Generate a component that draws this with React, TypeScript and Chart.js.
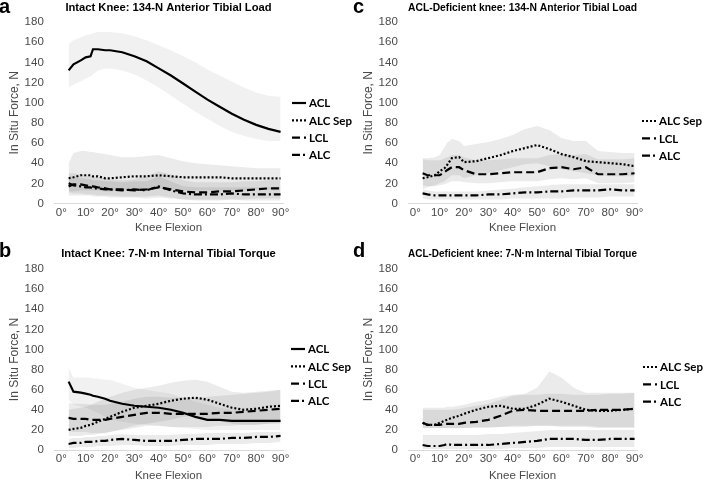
import React, { useEffect, useRef } from "react";
import { Chart, registerables } from "chart.js";

Chart.register(...registerables);

// ---------------- data ----------------
const angles = [3, 5, 8, 10, 12, 13, 15, 18, 20, 25, 30, 35, 40, 45, 50, 55, 60, 65, 70, 75, 80, 85, 90];
const xTicks = [0, 10, 20, 30, 40, 50, 60, 70, 80, 90];
const yTicks = [0, 20, 40, 60, 80, 100, 120, 140, 160, 180];

const titleA = "Intact Knee: 134-N Anterior Tibial Load";
const titleB = "Intact Knee: 7-N\u00b7m Internal Tibial Torque";
const titleC = "ACL-Deficient knee: 134-N Anterior Tibial Load";
const titleD = "ACL-Deficient knee: 7-N\u00b7m Internal Tibial Torque";

// Panel a
const aACL = [132, 138, 142, 145, 146, 153, 153, 152, 152, 150, 146, 141, 134, 127, 119, 111, 103, 96, 89, 83, 78, 74, 71];
const aACLHi = [158, 162, 165, 167, 168, 169, 170, 170, 170, 169, 166, 162, 157, 152, 146, 140, 133, 127, 121, 115, 110, 107, 106];
const aACLLo = [115, 118, 121, 124, 126, 128, 132, 134, 134, 132, 128, 122, 115, 107, 99, 91, 84, 77, 71, 67, 64, 62, 62];
const aSep = [25, 26, 28, 28, 28, 27, 27, 25, 25, 26, 27, 27, 28, 27, 26, 26, 26, 26, 25, 25, 25, 25, 25];
const aSepHi = [40, 50, 52, 52, 51, 51, 50, 49, 48, 46, 46, 47, 48, 45, 42, 40, 39, 38, 37, 36, 35, 35, 35];
const aSepLo = [12, 12, 13, 13, 13, 13, 13, 12, 12, 13, 14, 14, 15, 14, 13, 13, 13, 13, 13, 13, 14, 14, 14];
const aLCL = [17, 19, 19, 18, 17, 17, 16, 15, 14, 14, 13, 14, 16, 14, 12, 11, 11, 12, 12, 13, 14, 15, 15];
const aLCLHi = [30, 30, 29, 28, 27, 27, 26, 25, 24, 23, 24, 27, 32, 29, 23, 21, 21, 21, 21, 22, 22, 23, 23];
const aLCLLo = [8, 8, 8, 8, 8, 7, 7, 7, 6, 6, 6, 5, 6, 5, 4, 4, 4, 4, 4, 4, 5, 5, 5];
const aALC = [20, 18, 17, 16, 16, 15, 15, 14, 14, 13, 14, 13, 17, 13, 10, 9, 9, 9, 10, 9, 9, 9, 9];
const aALCHi = [28, 26, 25, 24, 24, 23, 23, 22, 22, 21, 22, 22, 27, 22, 17, 16, 16, 16, 16, 16, 16, 16, 16];
const aALCLo = [11, 10, 10, 9, 9, 9, 8, 8, 8, 7, 7, 7, 8, 6, 4, 3, 3, 3, 4, 3, 3, 3, 3];

// Panel b
const bACL = [68, 58, 57, 56, 55, 54, 53, 51, 49, 46, 44, 43, 42, 40, 37, 33, 30, 30, 29, 29, 29, 29, 29];
const bACLHi = [82, 72, 72, 72, 72, 71, 71, 70, 70, 66, 62, 60, 58, 56, 52, 48, 45, 42, 40, 40, 40, 40, 40];
const bACLLo = [50, 45, 43, 42, 40, 39, 37, 33, 30, 28, 26, 25, 24, 23, 22, 21, 20, 20, 20, 20, 20, 20, 20];
const bSep = [20, 21, 22, 24, 25, 26, 28, 31, 33, 38, 42, 44, 46, 49, 51, 52, 50, 46, 42, 40, 41, 43, 44];
const bSepHi = [40, 41, 42, 43, 45, 46, 48, 51, 53, 57, 60, 62, 64, 67, 69, 70, 68, 63, 58, 57, 58, 59, 60];
const bSepLo = [14, 14, 14, 15, 15, 15, 16, 17, 18, 21, 24, 26, 28, 30, 33, 34, 32, 29, 26, 25, 25, 26, 27];
const bLCL = [32, 31, 31, 31, 30, 30, 30, 30, 31, 33, 35, 37, 37, 36, 36, 36, 36, 37, 37, 38, 39, 40, 41];
const bLCLHi = [47, 46, 46, 46, 45, 45, 45, 45, 46, 48, 51, 53, 53, 52, 52, 52, 53, 54, 55, 56, 57, 58, 60];
const bLCLLo = [19, 18, 18, 18, 17, 17, 17, 17, 18, 20, 22, 24, 24, 23, 23, 23, 23, 24, 24, 25, 25, 26, 26];
const bALC = [6, 7, 7, 8, 8, 8, 9, 9, 10, 11, 10, 9, 9, 9, 10, 11, 11, 11, 12, 12, 13, 13, 14];
const bALCHi = [11, 12, 12, 13, 13, 13, 14, 14, 15, 16, 15, 15, 15, 15, 16, 16, 17, 17, 17, 17, 18, 18, 18];
const bALCLo = [2, 2, 3, 3, 3, 3, 4, 4, 4, 5, 5, 4, 4, 4, 5, 5, 5, 6, 6, 6, 7, 7, 8];

// Panel c
const cSep = [25, 26, 28, 32, 35, 38, 45, 46, 41, 42, 45, 48, 52, 55, 58, 54, 49, 46, 42, 41, 40, 39, 37];
const cSepHi = [45, 45, 46, 48, 56, 60, 64, 62, 57, 59, 61, 64, 68, 74, 77, 73, 65, 62, 62, 52, 51, 50, 50];
const cSepLo = [14, 16, 18, 20, 22, 24, 28, 28, 25, 28, 30, 33, 36, 39, 40, 37, 34, 32, 30, 28, 27, 27, 27];
const cLCL = [30, 28, 28, 28, 31, 33, 36, 36, 33, 29, 29, 30, 31, 31, 31, 35, 36, 34, 36, 29, 29, 29, 30];
const cLCLHi = [44, 43, 43, 43, 45, 46, 48, 48, 46, 43, 43, 44, 45, 45, 45, 48, 49, 48, 49, 44, 44, 44, 45];
const cLCLLo = [18, 17, 17, 18, 19, 20, 22, 22, 21, 20, 20, 21, 22, 22, 22, 24, 25, 24, 25, 20, 20, 20, 21];
const cALC = [10, 9, 8, 8, 8, 8, 8, 8, 8, 8, 9, 9, 10, 11, 11, 12, 12, 13, 13, 13, 14, 13, 13];
const cALCHi = [14, 13, 12, 12, 12, 12, 12, 12, 12, 12, 13, 14, 15, 16, 17, 18, 19, 19, 19, 19, 19, 19, 19];
const cALCLo = [5, 4, 4, 4, 4, 4, 4, 4, 4, 4, 4, 4, 5, 5, 5, 5, 5, 6, 6, 6, 7, 7, 7];

// Panel d
const dSep = [27, 25, 25, 27, 29, 30, 32, 34, 36, 40, 43, 44, 41, 41, 45, 51, 48, 44, 40, 39, 39, 40, 41];
const dSepHi = [42, 42, 42, 42, 42, 43, 43, 44, 45, 48, 50, 53, 55, 56, 62, 78, 72, 62, 57, 57, 57, 57, 57];
const dSepLo = [22, 22, 22, 22, 22, 22, 22, 22, 22, 23, 23, 23, 23, 23, 24, 24, 23, 23, 23, 22, 22, 22, 22];
const dLCL = [27, 25, 25, 25, 26, 26, 26, 26, 27, 28, 30, 34, 39, 40, 39, 39, 39, 39, 39, 40, 40, 40, 41];
const dLCLHi = [40, 40, 40, 40, 40, 40, 40, 41, 42, 44, 46, 50, 54, 55, 55, 56, 56, 55, 55, 55, 56, 56, 57];
const dLCLLo = [22, 22, 22, 22, 22, 22, 22, 22, 22, 22, 22, 23, 24, 24, 24, 24, 24, 24, 24, 23, 23, 23, 23];
const dALC = [5, 4, 4, 4, 5, 6, 5, 5, 5, 5, 5, 6, 7, 8, 9, 11, 11, 11, 10, 10, 11, 11, 11];
const dALCHi = [15, 15, 15, 15, 15, 15, 15, 15, 15, 15, 16, 16, 17, 18, 19, 20, 20, 20, 20, 20, 20, 20, 20];
const dALCLo = [1, 1, 1, 1, 1, 1, 1, 1, 1, 1, 1, 1, 2, 2, 2, 3, 3, 3, 3, 3, 3, 3, 3];

// ---------------- styles ----------------
const DASH: Record<string, number[]> = {
  ACL: [],
  "ALC Sep": [2, 2],
  LCL: [8, 4],
  ALC: [8, 3, 2, 3],
};
const GRAY = "#4a4a4a";
const SANS = '"Liberation Sans", Arial, Helvetica, sans-serif';
const LINE_W = 2.2;

type Series = { label: string; mean: number[]; hi: number[]; lo: number[]; band: string };

const pts = (arr: number[]) => angles.map((a, i) => ({ x: a, y: arr[i] }));

const sideLegend = {
  id: "sideLegend",
  afterDraw(chart: any, _args: any, opts: any) {
    const ctx = chart.ctx;
    const items = chart.data.datasets.filter((d: any) => d.isLine);
    ctx.save();
    items.forEach((ds: any, i: number) => {
      const y = opts.y + i * opts.gap;
      ctx.strokeStyle = "#000";
      ctx.lineWidth = LINE_W;
      ctx.lineCap = "butt";
      ctx.setLineDash(ds.borderDash || []);
      ctx.beginPath();
      ctx.moveTo(opts.x, y);
      ctx.lineTo(opts.x + opts.w, y);
      ctx.stroke();
      ctx.setLineDash([]);
      ctx.fillStyle = "#000";
      ctx.font = "bold 11.5px Lato, 'Liberation Sans', sans-serif";
      ctx.textBaseline = "middle";
      ctx.textAlign = "left";
      ctx.fillText(ds.label, opts.x + opts.w + 3, y + 0.5);
    });
    ctx.restore();
  },
};

type PanelProps = {
  left: number;
  top: number;
  width: number;
  height: number;
  title: string;
  letter: string;
  series: Series[];
  titlePad: { top: number; bottom: number };
  xAxisH: number;
  xTitleBottom: number;
  legendX: number;
  legendY: number;
};

function Panel(p: PanelProps) {
  const ref = useRef<HTMLCanvasElement | null>(null);
  useEffect(() => {
    if (!ref.current) return;
    const datasets: any[] = [];
    p.series.forEach((s) => {
      datasets.push({
        label: s.label,
        isLine: true,
        data: pts(s.mean),
        borderColor: "#000",
        borderWidth: LINE_W,
        borderDash: DASH[s.label],
        pointRadius: 0,
        fill: false,
        tension: 0,
        order: 0,
      });
    });
    p.series.forEach((s) => {
      datasets.push({
        label: "",
        data: pts(s.hi),
        borderWidth: 0,
        borderColor: "rgba(0,0,0,0)",
        backgroundColor: s.band,
        pointRadius: 0,
        fill: "+1",
        order: 1,
      });
      datasets.push({
        label: "",
        data: pts(s.lo),
        borderWidth: 0,
        borderColor: "rgba(0,0,0,0)",
        pointRadius: 0,
        fill: false,
        order: 1,
      });
    });
    const chart = new Chart(ref.current, {
      type: "line",
      data: { datasets },
      plugins: [sideLegend as any],
      options: {
        animation: false,
        responsive: false,
        devicePixelRatio: 1,
        layout: { padding: { left: 0, right: p.width - 283, top: 0, bottom: 0 } },
        plugins: {
          legend: { display: false },
          tooltip: { enabled: false },
          title: {
            display: true,
            text: p.title,
            fullSize: false,
            color: "#000",
            font: { family: SANS, size: 11.2, weight: "bold" },
            padding: p.titlePad,
          },
          sideLegend: { x: p.legendX, y: p.legendY, gap: 17.3, w: 14 },
        } as any,
        scales: {
          x: {
            type: "linear",
            min: -3,
            max: 91,
            afterBuildTicks: (s: any) => {
              s.ticks = xTicks.map((v) => ({ value: v }));
            },
            afterFit: (s: any) => {
              s.height = p.xAxisH;
            },
            ticks: {
              callback: (v: any) => v + "\u00b0",
              color: GRAY,
              font: { family: SANS, size: 11.5 },
              padding: 2,
              maxRotation: 0,
              autoSkip: false,
            },
            grid: { display: false, drawTicks: false },
            border: { display: true, color: "#d9d9d9", width: 1 },
            title: {
              display: true,
              text: "Knee Flexion",
              color: GRAY,
              font: { family: SANS, size: 11.5 },
              padding: { top: 0, bottom: p.xTitleBottom },
            },
          },
          y: {
            type: "linear",
            min: 0,
            max: 180,
            afterBuildTicks: (s: any) => {
              s.ticks = yTicks.map((v) => ({ value: v }));
            },
            afterFit: (s: any) => {
              s.width = 54;
            },
            ticks: { color: GRAY, font: { family: SANS, size: 11.5 }, padding: 10.2 },
            grid: { display: false, drawTicks: false },
            border: { display: false },
            title: {
              display: true,
              text: "In Situ Force, N",
              color: GRAY,
              font: { family: SANS, size: 12 },
              padding: { top: 7.5, bottom: 0 },
            },
          },
        },
      } as any,
    });
    return () => chart.destroy();
  }, []);
  return (
    <div style={{ position: "absolute", left: p.left, top: p.top, width: p.width, height: p.height }}>
      <canvas ref={ref} width={p.width} height={p.height} style={{ width: p.width, height: p.height, display: "block" }} />
      <div
        style={{
          position: "absolute",
          left: -1,
          top: p.letter === "a" || p.letter === "c" ? -4.2 : -6.2,
          font: `bold 20px ${SANS}`,
          lineHeight: "20px",
          color: "#000",
        }}
      >
        {p.letter}
      </div>
    </div>
  );
}

const LIGHT = "rgba(0,0,0,0.055)";
const MID = "rgba(0,0,0,0.08)";

export default function App() {
  const seriesA: Series[] = [
    { label: "ACL", mean: aACL, hi: aACLHi, lo: aACLLo, band: LIGHT },
    { label: "ALC Sep", mean: aSep, hi: aSepHi, lo: aSepLo, band: MID },
    { label: "LCL", mean: aLCL, hi: aLCLHi, lo: aLCLLo, band: MID },
    { label: "ALC", mean: aALC, hi: aALCHi, lo: aALCLo, band: MID },
  ];
  const seriesB: Series[] = [
    { label: "ACL", mean: bACL, hi: bACLHi, lo: bACLLo, band: LIGHT },
    { label: "ALC Sep", mean: bSep, hi: bSepHi, lo: bSepLo, band: MID },
    { label: "LCL", mean: bLCL, hi: bLCLHi, lo: bLCLLo, band: MID },
    { label: "ALC", mean: bALC, hi: bALCHi, lo: bALCLo, band: MID },
  ];
  const seriesC: Series[] = [
    { label: "ALC Sep", mean: cSep, hi: cSepHi, lo: cSepLo, band: MID },
    { label: "LCL", mean: cLCL, hi: cLCLHi, lo: cLCLLo, band: MID },
    { label: "ALC", mean: cALC, hi: cALCHi, lo: cALCLo, band: MID },
  ];
  const seriesD: Series[] = [
    { label: "ALC Sep", mean: dSep, hi: dSepHi, lo: dSepLo, band: MID },
    { label: "LCL", mean: dLCL, hi: dLCLHi, lo: dLCLLo, band: MID },
    { label: "ALC", mean: dALC, hi: dALCHi, lo: dALCLo, band: MID },
  ];
  return (
    <div style={{ position: "absolute", left: 0, top: 0, width: 708, height: 483, background: "#fff", overflow: "hidden" }}>
      <Panel left={0} top={0} width={354} height={240} title={titleA} letter="a" series={seriesA}
        titlePad={{ top: 1.2, bottom: 7.4 }} xAxisH={36.5} xTitleBottom={5} legendX={292} legendY={103} />
      <Panel left={0} top={246} width={354} height={237} title={titleB} letter="b" series={seriesB}
        titlePad={{ top: 0.7, bottom: 8.9 }} xAxisH={33} xTitleBottom={0} legendX={291} legendY={103} />
      <Panel left={354} top={0} width={354} height={240} title={titleC} letter="c" series={seriesC}
        titlePad={{ top: 1.2, bottom: 7.4 }} xAxisH={36.5} xTitleBottom={5} legendX={288} legendY={121} />
      <Panel left={354} top={246} width={354} height={237} title={titleD} letter="d" series={seriesD}
        titlePad={{ top: 0.7, bottom: 8.9 }} xAxisH={33} xTitleBottom={0} legendX={289} legendY={121} />
    </div>
  );
}
